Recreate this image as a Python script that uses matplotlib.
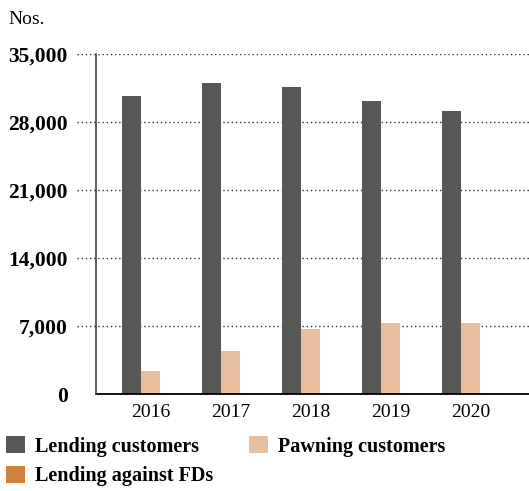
import matplotlib
matplotlib.use("Agg")
import matplotlib.pyplot as plt
import numpy as np

plt.rcParams['font.family'] = ['Liberation Serif', 'DejaVu Serif']

# Donnees
annees = ["2016", "2017", "2018", "2019", "2020"]
lending_customers = [30700, 32000, 31600, 30150, 29150]
pawning_customers = [2400, 4450, 6700, 7300, 7300]
lending_against_fds = [120, 110, 110, 100, 100]
graduations = [0, 7000, 14000, 21000, 28000, 35000]

couleurs = ["#575756", "#E6BEA0", "#D0803C"]

fig = plt.figure(figsize=(5.29, 4.91), dpi=100)
ax = fig.add_axes([77 / 529, 1 - 394 / 491, 1 - 77 / 529, 340 / 491])

x = np.arange(len(annees))
largeur = 0.2375
b1 = ax.bar(x - largeur, lending_customers, largeur, color=couleurs[0], label="Lending customers")
b2 = ax.bar(x, pawning_customers, largeur, color=couleurs[1], label="Pawning customers")
b3 = ax.bar(x + largeur, lending_against_fds, largeur, color=couleurs[2], label="Lending against FDs")

ax.set_xlim(-0.917, 4.73)
ax.set_ylim(0, 35000)

# Grille pointillee
for g in graduations[1:]:
    ax.axhline(g, color="#333333", lw=1, ls=(0, (1, 2)), zorder=0)

# Axes
for s in ["top", "right", "left", "bottom"]:
    ax.spines[s].set_visible(False)
ax.plot([-0.68, 4.73], [0, 0], color="black", lw=1.3, clip_on=False, zorder=3)
ax.plot([-0.68, -0.68], [0, 35000], color="#444444", lw=1.2, clip_on=False, zorder=3)

ax.set_yticks(graduations)
ax.set_yticklabels([f"{g:,}" for g in graduations], fontsize=15.5, fontweight="bold")
ax.set_xticks(x)
ax.set_xticklabels(annees, fontsize=14)
ax.tick_params(axis="y", length=0, pad=6.5)
ax.tick_params(axis="x", length=0, pad=7)

fig.text(8 / 529, 1 - 19 / 491, "Nos.", fontsize=14, va="center", ha="left")

fig.legend(handles=[b1, b3, b2],
           labels=["Lending customers", "Lending against FDs", "Pawning customers"],
           ncol=2, loc="upper left", bbox_to_anchor=(2 / 529, 1 - 432 / 491),
           frameon=False, prop={"size": 14.5, "weight": "bold"},
           handlelength=0.95, handleheight=0.95, handletextpad=0.5,
           columnspacing=1.75, labelspacing=0.45, borderaxespad=0, borderpad=0.2)

fig.savefig("out.png", dpi=100)
